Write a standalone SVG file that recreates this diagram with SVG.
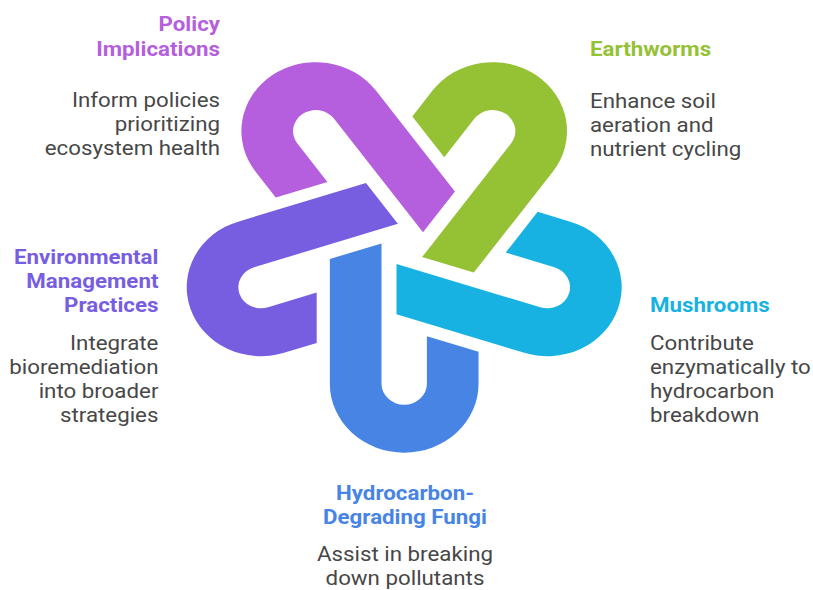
<svg xmlns="http://www.w3.org/2000/svg" xmlns:xlink="http://www.w3.org/1999/xlink" width="813" height="590" viewBox="0 0 813 590">
  <style>
    .title { font-family: Roboto, "Liberation Sans", sans-serif; font-size: 20.7px; font-weight: 700; }
    .desc { font-family: Roboto, "Liberation Sans", sans-serif; font-size: 20.7px; font-weight: 400; fill: #474747; }
    .end { text-anchor: end; }
    .mid { text-anchor: middle; }
    .c-purple { fill: #B55FDE; }
    .c-green { fill: #95C135; }
    .c-cyan { fill: #18B2E2; }
    .c-blue { fill: #4784E3; }
    .c-violet { fill: #775EE1; }
  </style>
  <defs>
    <!-- one U-shaped band: long leg on the left, short leg on the right, rounded end pointing down -->
    <path id="band" d="M-74.35 16.06 V150.5 A74.35 74.35 0 0 0 74.35 150.5 V116.16 L22.7 99.38 V150.5 A22.7 22.7 0 0 1 -22.7 150.5 V-0.72 Z"/>
  </defs>

  <rect width="813" height="590" fill="#ffffff"/>

  <!-- interlocking knot of five bands, rotated about a common centre -->
  <g id="knot" transform="translate(404.2 244.1) scale(1 0.9276)">
    <g id="node-fungi-shape"><use xlink:href="#band" class="c-blue"/></g>
    <g id="node-mushrooms-shape"><use xlink:href="#band" class="c-cyan" transform="rotate(-72)"/></g>
    <g id="node-earthworms-shape"><use xlink:href="#band" class="c-green" transform="rotate(-144)"/></g>
    <g id="node-policy-shape"><use xlink:href="#band" class="c-purple" transform="rotate(-216)"/></g>
    <g id="node-management-shape"><use xlink:href="#band" class="c-violet" transform="rotate(-288)"/></g>
  </g>

  <g id="connectors"/>

  <!-- labels, slightly widened -->
  <g id="node-policy" transform="scale(1.078 1)">
    <text class="title c-purple end" x="204.1" y="31.5">Policy</text>
    <text class="title c-purple end" x="204.1" y="56">Implications</text>
    <text class="desc end" x="204.1" y="107">Inform policies</text>
    <text class="desc end" x="204.1" y="131.2">prioritizing</text>
    <text class="desc end" x="204.1" y="155.5">ecosystem health</text>
  </g>

  <g id="node-earthworms" transform="scale(1.078 1)">
    <text class="title c-green" x="547.3" y="56.5">Earthworms</text>
    <text class="desc" x="547.3" y="108">Enhance soil</text>
    <text class="desc" x="547.3" y="132.3">aeration and</text>
    <text class="desc" x="547.3" y="156.5">nutrient cycling</text>
  </g>

  <g id="node-management" transform="scale(1.078 1)">
    <text class="title c-violet end" x="147.0" y="264">Environmental</text>
    <text class="title c-violet end" x="147.0" y="288.5">Management</text>
    <text class="title c-violet end" x="147.0" y="312.5">Practices</text>
    <text class="desc end" x="147.0" y="350">Integrate</text>
    <text class="desc end" x="147.0" y="374.5">bioremediation</text>
    <text class="desc end" x="147.0" y="398.5">into broader</text>
    <text class="desc end" x="147.0" y="422.5">strategies</text>
  </g>

  <g id="node-mushrooms" transform="scale(1.078 1)">
    <text class="title c-cyan" x="603.0" y="312">Mushrooms</text>
    <text class="desc" x="603.0" y="350">Contribute</text>
    <text class="desc" x="603.0" y="374.5">enzymatically to</text>
    <text class="desc" x="603.0" y="398.5">hydrocarbon</text>
    <text class="desc" x="603.0" y="422.5">breakdown</text>
  </g>

  <g id="node-fungi" transform="scale(1.078 1)">
    <text class="title c-blue mid" x="375.7" y="500">Hydrocarbon-</text>
    <text class="title c-blue mid" x="375.7" y="524.5">Degrading Fungi</text>
    <text class="desc mid" x="375.7" y="561.5">Assist in breaking</text>
    <text class="desc mid" x="375.7" y="585.5">down pollutants</text>
  </g>
</svg>
